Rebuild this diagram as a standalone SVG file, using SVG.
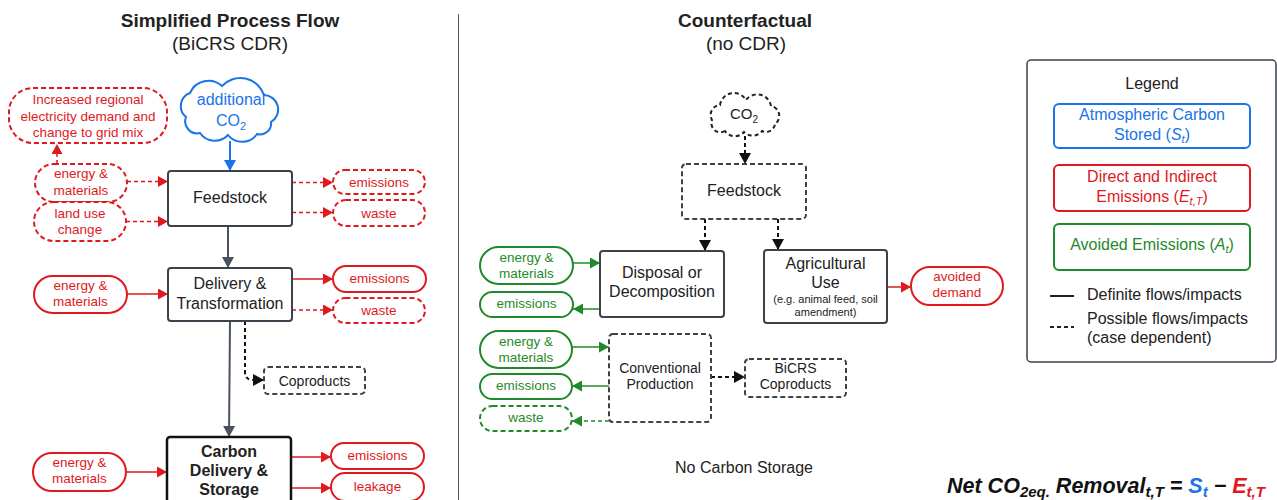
<svg xmlns="http://www.w3.org/2000/svg" width="1277" height="500" viewBox="0 0 1277 500">
<style>
text{font-family:"Liberation Sans",Arial,sans-serif;text-anchor:middle;fill:#222}
.h{font-size:19px}
.hb{font-size:19px;font-weight:bold}
.n{font-size:16px}
.s{font-size:14px}
.p{font-size:13.5px}
.xs{font-size:11px}
.r{fill:#e0191e}
.g{fill:#1f8a2a}
.b{fill:#1a73e8}
.box{fill:#fff;stroke:#3b424b;stroke-width:2}
.dbox{fill:#fff;stroke:#3b424b;stroke-width:2;stroke-dasharray:5 3}
.rp{fill:#fff;stroke:#e0191e;stroke-width:2}
.rpd{fill:#fff;stroke:#e0191e;stroke-width:2;stroke-dasharray:5 3}
.gp{fill:#fff;stroke:#1f8a2a;stroke-width:2}
.gpd{fill:#fff;stroke:#1f8a2a;stroke-width:2;stroke-dasharray:5 3}
.cr{stroke:#e0191e;stroke-width:1.5;fill:none}
.cg{stroke:#1f8a2a;stroke-width:1.5;fill:none}
.ck{stroke:#4a5260;stroke-width:2;fill:none}
.cb{stroke:#111;stroke-width:2;fill:none}
.d{stroke-dasharray:4 3}
.it{font-style:italic}
</style>
<defs>
<marker id="mr" viewBox="0 0 10 11" refX="10" refY="5.5" markerWidth="10" markerHeight="11" markerUnits="userSpaceOnUse" orient="auto"><path d="M0,0L10,5.5L0,11z" fill="#e0191e"/></marker>
<marker id="mg" viewBox="0 0 10 11" refX="10" refY="5.5" markerWidth="10" markerHeight="11" markerUnits="userSpaceOnUse" orient="auto"><path d="M0,0L10,5.5L0,11z" fill="#1f8a2a"/></marker>
<marker id="mk" viewBox="0 0 11 12" refX="11" refY="6" markerWidth="11" markerHeight="12" markerUnits="userSpaceOnUse" orient="auto"><path d="M0,0L11,6L0,12z" fill="#4a5260"/></marker>
<marker id="mb" viewBox="0 0 11 12" refX="11" refY="6" markerWidth="11" markerHeight="12" markerUnits="userSpaceOnUse" orient="auto"><path d="M0,0L11,6L0,12z" fill="#111"/></marker>
<marker id="mbl" viewBox="0 0 11 12" refX="11" refY="6" markerWidth="11" markerHeight="12" markerUnits="userSpaceOnUse" orient="auto"><path d="M0,0L11,6L0,12z" fill="#1a73e8"/></marker>
</defs>
<rect width="1277" height="500" fill="#fff"/>

<g id="titles">
<text x="230" y="27" class="hb">Simplified Process Flow</text>
<text x="230" y="50" class="h">(BiCRS CDR)</text>
<text x="745" y="27" class="hb">Counterfactual</text>
<text x="746" y="50" class="h">(no CDR)</text>
<line x1="458.5" y1="14" x2="458.5" y2="500" stroke="#555" stroke-width="1"/>
</g>

<g id="connectors">
<line x1="57" y1="164" x2="57" y2="144" class="cr d" marker-end="url(#mr)"/>
<line x1="127" y1="181.5" x2="168" y2="181.5" class="cr d" marker-end="url(#mr)"/>
<line x1="126" y1="221.5" x2="168" y2="221.5" class="cr d" marker-end="url(#mr)"/>
<line x1="292" y1="182.5" x2="333" y2="182.5" class="cr d" marker-end="url(#mr)"/>
<line x1="292" y1="212.5" x2="333" y2="212.5" class="cr d" marker-end="url(#mr)"/>
<line x1="230" y1="141" x2="230" y2="171" stroke="#1a73e8" stroke-width="2" marker-end="url(#mbl)"/>
<line x1="228" y1="226" x2="228" y2="268" class="ck" marker-end="url(#mk)"/>
<line x1="127" y1="294" x2="168" y2="294" class="cr" marker-end="url(#mr)"/>
<line x1="292" y1="279" x2="333" y2="279" class="cr" marker-end="url(#mr)"/>
<line x1="292" y1="310" x2="333" y2="310" class="cr d" marker-end="url(#mr)"/>
<line x1="230" y1="321" x2="229" y2="437" class="ck" marker-end="url(#mk)"/>
<path d="M245,321V372Q245,380 253,380H264" class="cb d" marker-end="url(#mb)"/>
<line x1="126" y1="472" x2="167" y2="472" class="cr" marker-end="url(#mr)"/>
<line x1="291" y1="457" x2="331" y2="457" class="cr" marker-end="url(#mr)"/>
<line x1="291" y1="488" x2="331" y2="488" class="cr" marker-end="url(#mr)"/>

<line x1="745" y1="136" x2="745" y2="164" class="cb d" marker-end="url(#mb)"/>
<line x1="705" y1="219" x2="705" y2="251" class="cb d" marker-end="url(#mb)"/>
<line x1="778" y1="219" x2="778" y2="250" class="cb d" marker-end="url(#mb)"/>
<line x1="887" y1="287" x2="911" y2="287" class="cr" marker-end="url(#mr)"/>
<line x1="573" y1="263" x2="600" y2="263" class="cg" marker-end="url(#mg)"/>
<line x1="600" y1="309" x2="573" y2="309" class="cg" marker-end="url(#mg)"/>
<line x1="572" y1="347" x2="609" y2="347" class="cg" marker-end="url(#mg)"/>
<line x1="609" y1="386" x2="572" y2="386" class="cg" marker-end="url(#mg)"/>
<line x1="609" y1="421" x2="572" y2="421" class="cg d" marker-end="url(#mg)"/>
<line x1="711" y1="377" x2="745" y2="377" class="cb d" marker-end="url(#mb)"/>
</g>

<g id="increased-demand">
<rect x="9" y="88" width="158" height="55" rx="24" class="rpd"/>
<text x="88" y="104" class="p r">Increased regional</text>
<text x="88" y="120.5" class="p r">electricity demand and</text>
<text x="88" y="137" class="p r">change to grid mix</text>
</g>
<g id="additional-co2">
<path d="M200,133A12,12 0 0 1 186,117A14,14 0 0 1 190,93A20,20 0 0 1 222,86A25,25 0 0 1 264,95A14.5,14.5 0 0 1 271,122A11,11 0 0 1 257,134A18,18 0 0 1 228,135A18,18 0 0 1 200,133Z" fill="#fff" stroke="#1a73e8" stroke-width="2"/>
<text x="231" y="105" class="n b">additional</text>
<text x="231" y="126" class="n b">CO<tspan font-size="11" dy="4">2</tspan></text>
</g>
<g id="l-energy1">
<rect x="35" y="164" width="92" height="38" rx="19" class="rpd"/>
<text x="81" y="178" class="p r">energy &amp;</text>
<text x="81" y="194.5" class="p r">materials</text>
</g>
<g id="l-landuse">
<rect x="34" y="202" width="92" height="39" rx="19.5" class="rpd"/>
<text x="80" y="217.5" class="p r">land use</text>
<text x="80" y="234" class="p r">change</text>
</g>
<g id="l-feedstock">
<rect x="168" y="171" width="124" height="55" rx="3" class="box"/>
<text x="230" y="203" class="n">Feedstock</text>
</g>
<g id="l-emissions1">
<rect x="333" y="170" width="92" height="24" rx="12" class="rpd"/>
<text x="379" y="186.5" class="p r">emissions</text>
</g>
<g id="l-waste1">
<rect x="333" y="200" width="92" height="26" rx="13" class="rpd"/>
<text x="379" y="217.5" class="p r">waste</text>
</g>
<g id="l-energy2">
<rect x="34" y="276" width="93" height="37" rx="18.5" class="rp"/>
<text x="80.5" y="289.5" class="p r">energy &amp;</text>
<text x="80.5" y="305.5" class="p r">materials</text>
</g>
<g id="l-delivery">
<rect x="168" y="268" width="124" height="53" rx="3" class="box"/>
<text x="230" y="288.5" class="n">Delivery &amp;</text>
<text x="230" y="308.5" class="n">Transformation</text>
</g>
<g id="l-emissions2">
<rect x="333" y="266" width="93" height="26" rx="13" class="rp"/>
<text x="379.5" y="283" class="p r">emissions</text>
</g>
<g id="l-waste2">
<rect x="333" y="298" width="92" height="25" rx="12.5" class="rpd"/>
<text x="379" y="314.5" class="p r">waste</text>
</g>
<g id="l-coproducts">
<rect x="264" y="367" width="101" height="27" rx="4" class="dbox"/>
<text x="314.5" y="385.5" class="s">Coproducts</text>
</g>
<g id="l-energy3">
<rect x="33" y="453" width="93" height="38" rx="19" class="rp"/>
<text x="79.5" y="466.5" class="p r">energy &amp;</text>
<text x="79.5" y="483" class="p r">materials</text>
</g>
<g id="l-carbon-storage">
<rect x="167" y="437" width="124" height="72" rx="3" fill="#fff" stroke="#111" stroke-width="2.5"/>
<text x="229" y="457" class="n" font-weight="bold">Carbon</text>
<text x="229" y="476" class="n" font-weight="bold">Delivery &amp;</text>
<text x="229" y="495" class="n" font-weight="bold">Storage</text>
</g>
<g id="l-emissions3">
<rect x="331" y="443" width="93" height="26" rx="13" class="rp"/>
<text x="377.5" y="460" class="p r">emissions</text>
</g>
<g id="l-leakage">
<rect x="331" y="473" width="93" height="28" rx="14" class="rp"/>
<text x="377.5" y="491" class="p r">leakage</text>
</g>

<g id="c-co2">
<path d="M725,131A9,9 0 0 1 712,120A10,10 0 0 1 720,105A14,14 0 0 1 746,100A14,14 0 0 1 771,106A10,10 0 0 1 775,124A9,9 0 0 1 762,131A12,12 0 0 1 744,132A12,12 0 0 1 725,131Z" fill="#fff" stroke="#222" stroke-width="2" stroke-dasharray="4 3"/>
<text x="744" y="119" style="font-size:15px">CO<tspan font-size="10" dy="4">2</tspan></text>
</g>
<g id="c-feedstock">
<rect x="682" y="164" width="124" height="55" rx="4" class="dbox"/>
<text x="744" y="196" class="n">Feedstock</text>
</g>
<g id="c-disposal">
<rect x="600" y="251" width="124" height="66" rx="3" class="box"/>
<text x="662" y="278" class="n">Disposal or</text>
<text x="662" y="297" class="n">Decomposition</text>
</g>
<g id="c-agricultural">
<rect x="764" y="250" width="123" height="73" rx="3" class="box"/>
<text x="825.5" y="269" class="n">Agricultural</text>
<text x="825.5" y="288" class="n">Use</text>
<text x="825.5" y="303" class="xs">(e.g. animal feed, soil</text>
<text x="825.5" y="316" class="xs">amendment)</text>
</g>
<g id="c-avoided-demand">
<rect x="911" y="267" width="92" height="38" rx="19" class="rp"/>
<text x="957" y="281" class="p r">avoided</text>
<text x="957" y="297" class="p r">demand</text>
</g>
<g id="c-energy1">
<rect x="480" y="247" width="93" height="37" rx="18.5" class="gp"/>
<text x="526.5" y="262" class="p g">energy &amp;</text>
<text x="526.5" y="278" class="p g">materials</text>
</g>
<g id="c-emissions1">
<rect x="480" y="292" width="93" height="25" rx="12.5" class="gp"/>
<text x="526.5" y="308" class="p g">emissions</text>
</g>
<g id="c-energy2">
<rect x="480" y="331" width="92" height="37" rx="18.5" class="gp"/>
<text x="526" y="345.5" class="p g">energy &amp;</text>
<text x="526" y="361.5" class="p g">materials</text>
</g>
<g id="c-emissions2">
<rect x="480" y="374" width="92" height="25" rx="12.5" class="gp"/>
<text x="526" y="390" class="p g">emissions</text>
</g>
<g id="c-waste">
<rect x="480" y="406" width="92" height="25" rx="12.5" class="gpd"/>
<text x="526" y="422" class="p g">waste</text>
</g>
<g id="c-conventional">
<rect x="609" y="334" width="102" height="88" rx="4" class="dbox"/>
<text x="660" y="373" class="s">Conventional</text>
<text x="660" y="389" class="s">Production</text>
</g>
<g id="c-bicrs-coproducts">
<rect x="745" y="359" width="101" height="38" rx="4" class="dbox"/>
<text x="795.5" y="373" class="s">BiCRS</text>
<text x="795.5" y="389" class="s">Coproducts</text>
</g>
<text x="744" y="473" class="n">No Carbon Storage</text>

<g id="legend">
<rect x="1027" y="60" width="249" height="302" rx="4" fill="#fff" stroke="#3b424b" stroke-width="1.5"/>
<text x="1152" y="89" class="n">Legend</text>
<rect x="1054" y="104" width="196" height="44" rx="5" fill="#fff" stroke="#1a73e8" stroke-width="2"/>
<text x="1152" y="120" class="n b">Atmospheric Carbon</text>
<text x="1152" y="140" class="n b">Stored (<tspan class="it">S</tspan><tspan class="it" font-size="11" dy="3">t</tspan><tspan dy="-3">)</tspan></text>
<rect x="1054" y="165" width="196" height="46" rx="5" fill="#fff" stroke="#e0191e" stroke-width="2"/>
<text x="1152" y="182" class="n r">Direct and Indirect</text>
<text x="1152" y="202" class="n r">Emissions (<tspan class="it">E</tspan><tspan class="it" font-size="11" dy="3">t,T</tspan><tspan dy="-3">)</tspan></text>
<rect x="1054" y="224" width="196" height="46" rx="5" fill="#fff" stroke="#1f8a2a" stroke-width="2"/>
<text x="1152" y="250" class="n g">Avoided Emissions (<tspan class="it">A</tspan><tspan class="it" font-size="11" dy="3">t</tspan><tspan dy="-3">)</tspan></text>
<line x1="1050" y1="296" x2="1074" y2="296" stroke="#222" stroke-width="2"/>
<text x="1087" y="300" class="n" style="text-anchor:start">Definite flows/impacts</text>
<line x1="1050" y1="327" x2="1074" y2="327" stroke="#222" stroke-width="2" stroke-dasharray="4 3"/>
<text x="1087" y="324" class="n" style="text-anchor:start">Possible flows/impacts</text>
<text x="1087" y="343" class="n" style="text-anchor:start">(case dependent)</text>
</g>

<g id="formula">
<text x="947" y="493" style="text-anchor:start;font-size:21.5px;font-weight:bold;font-style:italic;fill:#111">Net CO<tspan font-size="15" dy="4">2eq.</tspan><tspan dy="-4"> Removal</tspan><tspan font-size="15" dy="4">t,T</tspan><tspan dy="-4"> = </tspan><tspan class="b">S</tspan><tspan class="b" font-size="15" dy="4">t</tspan><tspan dy="-4"> − </tspan><tspan class="r">E</tspan><tspan class="r" font-size="15" dy="4">t,T</tspan></text>
</g>
</svg>
